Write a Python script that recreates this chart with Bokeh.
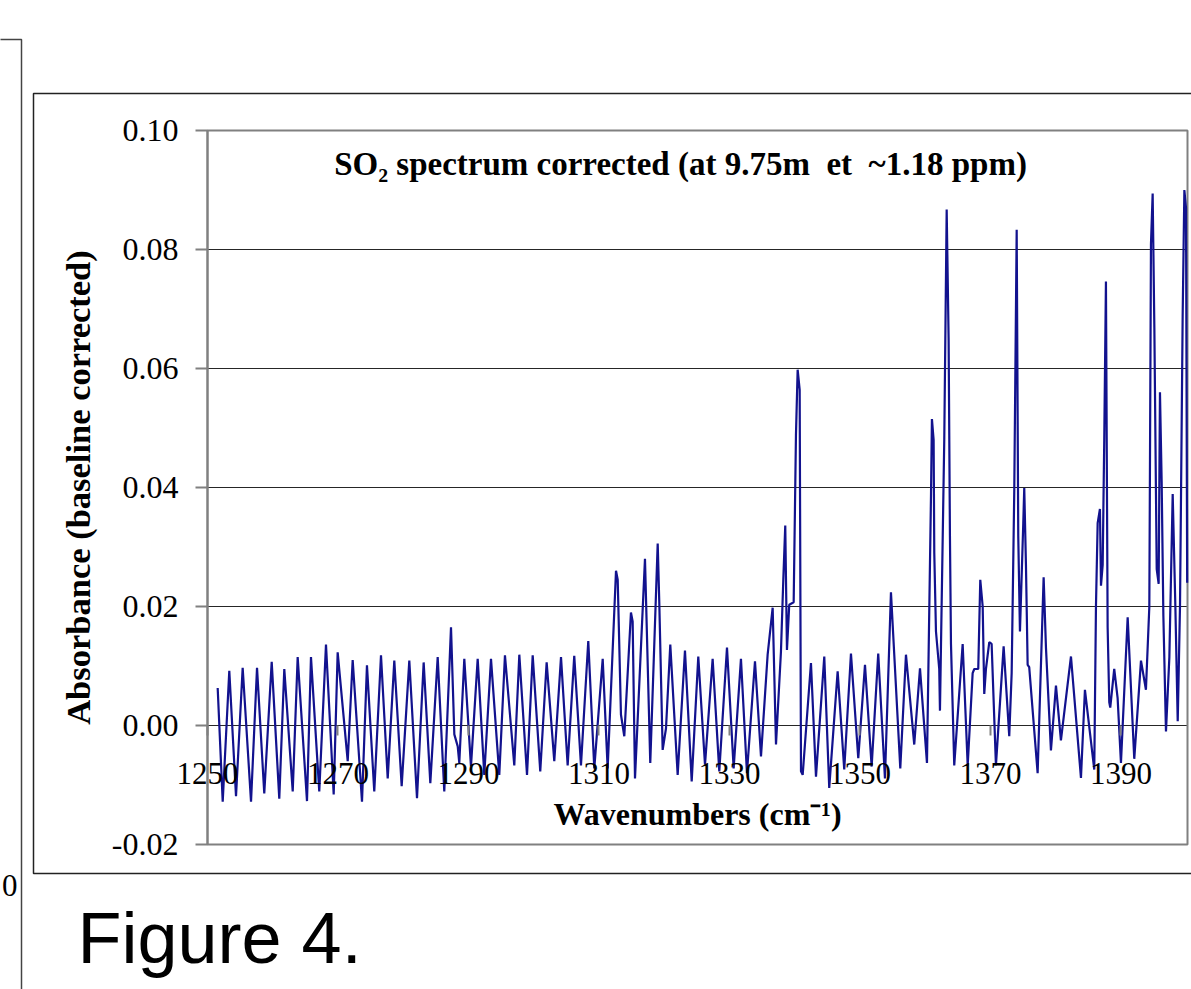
from bokeh.plotting import figure
from bokeh.models import Range1d, FixedTicker, NumeralTickFormatter
from bokeh.core.properties import value
from bokeh.embed import file_html
from bokeh.resources import INLINE

# ---- data ----
wavenumber = [
    1251.56, 1252.33, 1253.34, 1254.37, 1255.39, 1256.67, 1257.59, 1258.70, 1259.84, 1261.00,
    1261.77, 1263.06, 1263.82, 1265.25, 1265.86, 1267.13, 1268.16, 1269.34, 1269.95, 1271.49,
    1272.25, 1273.68, 1274.44, 1275.56, 1276.59, 1277.62, 1278.63, 1279.76, 1280.93, 1282.11,
    1283.13, 1284.15, 1285.28, 1286.29, 1287.32, 1287.83, 1288.35, 1288.59, 1289.36, 1290.38,
    1291.41, 1292.42, 1293.45, 1294.72, 1295.59, 1297.02, 1297.79, 1298.97, 1299.84, 1301.00,
    1301.98, 1303.15, 1304.18, 1305.20, 1306.21, 1307.24, 1308.36, 1309.28, 1310.57, 1311.33,
    1312.61, 1312.87, 1313.37, 1313.88, 1314.90, 1315.16, 1315.52, 1317.05, 1317.86, 1319.00,
    1319.24, 1319.76, 1320.27, 1320.93, 1322.06, 1323.18, 1324.21, 1325.22, 1326.25, 1327.42,
    1328.44, 1329.62, 1330.64, 1331.76, 1332.68, 1333.91, 1334.83, 1335.85, 1336.62, 1337.13,
    1337.89, 1338.25, 1338.55, 1338.81, 1339.16, 1339.84, 1340.19, 1340.45, 1340.76, 1340.96,
    1341.22, 1342.49, 1343.26, 1344.53, 1345.29, 1346.58, 1347.59, 1348.62, 1349.74, 1350.77,
    1351.79, 1352.80, 1353.83, 1354.75, 1356.18, 1357.05, 1358.32, 1359.20, 1360.27, 1360.89,
    1361.03, 1361.29, 1361.39, 1361.65, 1362.15, 1362.26, 1362.92, 1363.29, 1363.59, 1363.79,
    1363.95, 1364.45, 1365.74, 1366.51, 1367.27, 1367.52, 1368.13, 1368.44, 1368.81, 1369.05,
    1369.31, 1369.82, 1370.18, 1370.84, 1372.02, 1372.88, 1373.25, 1373.65, 1374.02, 1374.26,
    1374.52, 1375.03, 1375.18, 1375.44, 1375.70, 1375.94, 1377.23, 1378.15, 1378.51, 1379.27,
    1380.04, 1380.80, 1382.34, 1383.87, 1384.48, 1385.91, 1386.17, 1386.43, 1386.78, 1386.94,
    1387.20, 1387.44, 1387.70, 1387.96, 1388.21, 1388.36, 1388.97, 1389.49, 1390.00, 1391.03,
    1392.04, 1393.07, 1393.83, 1394.35, 1394.60, 1394.86, 1395.12, 1395.48, 1395.78, 1395.98,
    1396.24, 1396.50, 1396.90, 1397.42, 1397.93, 1398.34, 1398.70, 1399.05, 1399.46, 1399.72,
    1399.97, 1400.15,
]
absorbance = [
    0.0063, -0.0128, 0.0092, -0.0119, 0.0097, -0.0128, 0.0097, -0.0114, 0.0107, -0.0123,
    0.0095, -0.0111, 0.0115, -0.0127, 0.0115, -0.0111, 0.0136, -0.0116, 0.0123, -0.0060,
    0.0110, -0.0128, 0.0101, -0.0111, 0.0118, -0.0089, 0.0109, -0.0102, 0.0109, -0.0122,
    0.0106, -0.0097, 0.0115, -0.0111, 0.0165, -0.0015, -0.0035, -0.0063, 0.0112, -0.0069,
    0.0112, -0.0083, 0.0112, -0.0083, 0.0118, -0.0067, 0.0119, -0.0083, 0.0118, -0.0077,
    0.0106, -0.0060, 0.0115, -0.0067, 0.0117, -0.0067, 0.0142, -0.0072, 0.0112, -0.0072,
    0.0260, 0.0245, 0.0018, -0.0018, 0.0190, 0.0175, -0.0089, 0.0280, -0.0063, 0.0306,
    0.0208, -0.0041, -0.0005, 0.0136, -0.0083, 0.0126, -0.0094, 0.0116, -0.0066, 0.0112,
    -0.0077, 0.0131, -0.0072, 0.0112, -0.0080, 0.0108, -0.0052, 0.0119, 0.0198, -0.0032,
    0.0124, 0.0245, 0.0336, 0.0127, 0.0203, 0.0207, 0.0488, 0.0598, 0.0564, -0.0077,
    -0.0083, 0.0105, -0.0086, 0.0116, -0.0105, 0.0091, -0.0074, 0.0121, -0.0055, 0.0102,
    -0.0069, 0.0121, -0.0089, 0.0224, -0.0072, 0.0119, -0.0032, 0.0096, -0.0063, 0.0389,
    0.0515, 0.0480, 0.0290, 0.0158, 0.0095, 0.0025, 0.0480, 0.0867, 0.0648, 0.0319,
    0.0137, -0.0067, 0.0137, -0.0067, 0.0088, 0.0095, 0.0095, 0.0245, 0.0200, 0.0053,
    0.0095, 0.0140, 0.0137, -0.0067, 0.0133, -0.0018, 0.0088, 0.0395, 0.0833, 0.0319,
    0.0158, 0.0340, 0.0399, 0.0270, 0.0102, 0.0098, -0.0080, 0.0249, 0.0130, -0.0042,
    0.0067, -0.0025, 0.0116, -0.0088, 0.0060, -0.0074, 0.0200, 0.0340, 0.0364, 0.0235,
    0.0270, 0.0480, 0.0746, 0.0165, 0.0039, 0.0030, 0.0095, 0.0046, -0.0063, 0.0182,
    -0.0056, 0.0109, 0.0060, 0.0200, 0.0809, 0.0894, 0.0669, 0.0263, 0.0238, 0.0560,
    0.0410, 0.0185, -0.0010, 0.0115, 0.0389, 0.0200, 0.0007, 0.0200, 0.0690, 0.0900,
    0.0870, 0.0240,
]
x_ticks = [1250, 1270, 1290, 1310, 1330, 1350, 1370, 1390]
y_ticks = [-0.02, 0.0, 0.02, 0.04, 0.06, 0.08, 0.10]
x_min, x_max = 1250, 1400.2
y_min, y_max = -0.02, 0.10

title_text = "SO\u2082 spectrum corrected (at 9.75m\u00a0 et\u00a0 ~1.18 ppm)"
x_title = "Wavenumbers (cm\u207b\u00b9)"
y_title = "Absorbance (baseline corrected)"
caption = "Figure 4."

SERIF = "Liberation Serif"

# ---- page geometry (pixels) ----
W, H = 1191, 989
PL, PR, PT, PB = 207, 1187, 130, 844   # plot-area box on the page

sx = (x_max - x_min) / (PR - PL)
sy = (y_max - y_min) / (PB - PT)
xr = Range1d(x_min - PL * sx, x_max + (W - PR) * sx)
yr = Range1d(y_min - (H - PB) * sy, y_max + PT * sy)

p = figure(width=W, height=H, x_range=xr, y_range=yr, min_border=0,
           output_backend="svg", toolbar_location=None, title=None,
           background_fill_color="white", border_fill_color="white")
p.outline_line_color = None
p.xgrid.visible = False
p.ygrid.visible = False
p.extra_x_ranges = {"page_x": Range1d(0, W)}
p.extra_y_ranges = {"page_y": Range1d(H, 0)}

# ---- gridlines + plot-area border ----
p.segment(x0=[x_min] * len(y_ticks), x1=[x_max] * len(y_ticks), y0=y_ticks, y1=y_ticks,
          line_color="#262626", line_width=1)
p.quad(left=[x_min], right=[x_max], bottom=[y_min], top=[y_max],
       fill_color=None, line_color="#808080", line_width=2)

# ---- y axis (at x = 1250) ----
ya = p.yaxis[0]
ya.fixed_location = x_min
ya.bounds = (y_min, y_max)
ya.ticker = FixedTicker(ticks=y_ticks)
ya.formatter = NumeralTickFormatter(format="0.00")
ya.major_label_text_font = SERIF
ya.major_label_text_font_size = "32px"
ya.major_label_text_color = "black"
ya.major_tick_out = 12
ya.major_tick_in = 0
ya.major_tick_line_color = "#808080"
ya.major_tick_line_width = 2
ya.minor_tick_line_color = None
ya.axis_line_color = "#808080"
ya.axis_line_width = 2
ya.major_label_standoff = 17
ya.axis_label = y_title
ya.axis_label_text_font = SERIF
ya.axis_label_text_font_style = "bold"
ya.axis_label_text_font_size = "34.5px"
ya.axis_label_text_color = "black"
ya.axis_label_standoff = 12

# ---- x axis (crossing at zero) ----
xa = p.xaxis[0]
xa.fixed_location = 0
xa.bounds = (x_min, x_max)
xa.ticker = FixedTicker(ticks=x_ticks)
xa.major_label_text_font = SERIF
xa.major_label_text_font_size = "31px"
xa.major_label_text_color = "black"
xa.major_tick_out = 10
xa.major_tick_in = 0
xa.major_tick_line_color = "#808080"
xa.major_tick_line_width = 2
xa.minor_tick_line_color = None
xa.axis_line_color = None
xa.major_label_standoff = 27
xa.axis_label = x_title
xa.axis_label_text_font = SERIF
xa.axis_label_text_font_style = "bold"
xa.axis_label_text_font_size = "32px"
xa.axis_label_text_color = "black"
xa.axis_label_standoff = 9

# ---- spectrum ----
p.line(wavenumber, absorbance, line_color="#12128e", line_width=2.2)

# ---- chart title inside the plot area ----
p.text(x=[(x_min + x_max) / 2 - 2.6], y=[y_max - 0.0057], text=[title_text],
       text_font=value(SERIF), text_font_style="bold", text_font_size="33px",
       text_align="center", text_baseline="middle", text_color="black")

# ---- page decorations (page pixel coordinates) ----
p.quad(left=[33], right=[W + 20], top=[93], bottom=[873],
       x_range_name="page_x", y_range_name="page_y",
       fill_color=None, line_color="#222222", line_width=1.5)
p.line(x=[-5, 21, 21], y=[39, 39, H + 5], x_range_name="page_x", y_range_name="page_y",
       line_color="#444444", line_width=1.5)
p.text(x=[17], y=[885], text=["0"], x_range_name="page_x", y_range_name="page_y",
       text_font=value(SERIF), text_font_size="31px", text_align="right",
       text_baseline="middle", text_color="black")
p.text(x=[77], y=[937], text=[caption], x_range_name="page_x", y_range_name="page_y",
       text_font=value("Liberation Sans"), text_font_size="72px", text_align="left",
       text_baseline="middle", text_color="black")

open("out.html", "w").write(file_html(p, INLINE))
